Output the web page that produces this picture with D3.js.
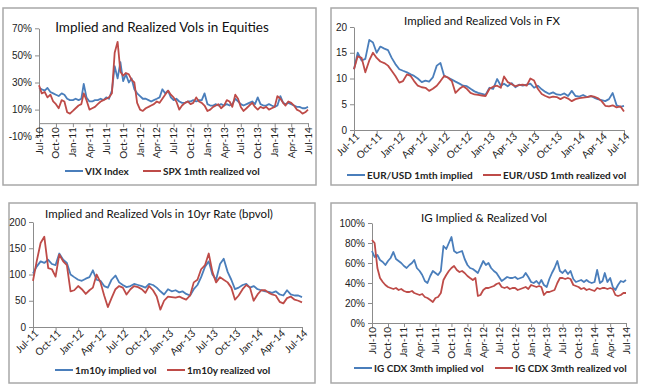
<!DOCTYPE html>
<html>
<head>
<meta charset="utf-8">
<script src="https://cdn.jsdelivr.net/npm/d3@7"></script>
<style>
  body { margin: 0; background: #fff; }
  svg { display: block; font-family: Lato, "Noto Sans", sans-serif; }
</style>
</head>
<body>
<svg id="chart" width="645" height="386"></svg>
<script>
// All series are semi-monthly observations (1st and 16th of each month).

// Equities, Jul-10 .. Jul-14 (%)
const eqStart = "2010-07";
const vixIndex = [
  26,25, 24,26, 23,22, 21,20, 22,21, 18,17,
  17,18, 17,18, 29,19, 16,16, 17,17, 18,17, 19,18, 24,42, 33,45, 31,36, 30,33, 25,22,
  20,18, 18,17, 16,17, 18,19, 25,22, 24,19, 17,18, 16,15, 15,16, 16,17, 16,17, 17,22,
  14,13, 13,14, 13,14, 13,14, 13,14, 18,16, 14,13, 14,15, 16,14, 19,14, 13,13, 14,13,
  12,13, 20,15, 14,15, 14,13, 12,12, 11,11, 12
];
const spxRealized = [
  28,22, 23,19, 21,16, 14,11, 17,16, 8,7,
  9,11, 13,14, 22,17, 10,11, 12,14, 16,17, 18,19, 22,52, 60,38, 35,37, 36,32, 30,15,
  10,9, 11,12, 13,14, 16,15, 18,21, 24,21, 19,16, 10,13, 15,16, 14,15, 19,16, 15,13,
  9,10, 12,13, 14,11, 13,17, 16,12, 21,18, 12,9, 11,13, 15,12, 10,12, 11,12, 10,11,
  12,20, 18,15, 13,16, 15,13, 10,9, 7,8, 10
];

// FX, Jul-11 .. Jul-14 (vol points)
const fxStart = "2011-07";
const eurusdImplied = [
  11.8,15.0, 13.5,13.8, 17.5,17.0, 15.0,16.2, 15.8,15.5, 14.0,12.8,
  11.8,11.5, 11.2,10.8, 10.5,10.0, 9.3,9.6, 9.4,10.2, 12.5,13.0, 10.5,10.2, 9.8,9.4, 9.0,8.6, 8.5,8.0, 7.5,7.2, 7.0,6.8,
  8.2,8.0, 9.9,8.6, 9.0,8.5, 9.1,8.3, 8.8,8.6, 8.8,9.0, 8.2,8.6, 7.9,7.4, 7.0,7.3, 6.9,6.8, 7.1,6.6, 7.6,6.6,
  6.5,6.8, 6.4,6.6, 6.3,6.0, 5.8,5.6, 6.0,7.2, 4.8,4.5, 4.7
];
const eurusdRealized = [
  11.8,14.3, 14.0,11.2, 13.5,15.0, 14.0,13.3, 13.0,12.5, 11.5,10.5,
  9.2,9.5, 10.8,10.5, 9.5,8.6, 8.3,8.2, 7.6,8.0, 8.6,9.5, 10.5,10.2, 9.5,7.2, 8.0,8.5, 8.0,7.2, 6.9,6.8, 6.7,6.6,
  8.0,8.4, 8.6,8.2, 10.4,9.3, 8.9,8.5, 8.7,8.8, 8.6,10.0, 9.6,8.0, 7.0,6.6, 6.3,6.5, 6.4,6.0, 6.4,6.1, 5.6,6.0,
  6.2,6.3, 6.4,6.6, 6.5,6.2, 5.6,4.7, 4.6,4.8, 4.4,4.6, 3.6
];

// 10yr rates, Jul-11 .. Jul-14 (bp vol)
const ratesStart = "2011-07";
const rateImplied = [
  102,115, 125,122, 128,120, 118,140, 128,122, 100,95,
  90,88, 92,95, 108,90, 88,78, 75,90, 98,85, 80,76, 78,82, 80,78, 75,82, 80,75, 68,62,
  72,68, 70,66, 68,63, 60,72, 80,95, 115,125, 100,90, 120,130, 105,90, 72,75, 80,82, 75,78,
  72,70, 68,67, 65,68, 62,60, 70,62, 60,60, 57
];
const rateRealized = [
  88,125, 160,172, 112,110, 96,138, 125,118, 68,70,
  78,72, 63,70, 75,100, 85,60, 38,55, 72,78, 75,62, 72,78, 76,72, 65,78, 70,58, 33,50,
  58,57, 56,58, 55,52, 60,85, 90,110, 118,140, 105,85, 95,90, 85,75, 52,60, 72,80, 75,50,
  62,70, 70,65, 62,60, 48,45, 55,58, 52,50, 47
];

// IG credit, Jul-10 .. Jul-14 (%)
const igStart = "2010-07";
const igImplied = [
  72,66, 68,63, 61,58, 62,65, 71,64, 62,60,
  57,55, 58,60, 63,55, 52,48, 42,40, 47,52, 50,48, 52,77, 74,80, 86,72, 70,71, 72,64,
  58,55, 54,52, 50,56, 62,58, 60,55, 52,50, 46,42, 44,46, 45,45, 46,44, 45,46, 50,46,
  41,40, 42,39, 43,38, 36,44, 50,55, 62,52, 50,53, 49,52, 44,41, 42,43, 41,43, 41,40,
  41,53, 40,42, 50,41, 45,36, 33,38, 42,41, 43
];
const igRealized = [
  83,80, 55,45, 41,38, 36,35, 34,35, 33,34,
  32,31, 31,32, 30,29, 28,29, 26,25, 23,21, 25,26, 30,43, 48,52, 55,57, 53,51, 52,50,
  47,45, 43,45, 27,28, 33,35, 35,36, 37,39, 40,36, 35,36, 34,35, 35,33, 34,35, 36,34,
  38,37, 36,37, 36,28, 31,31, 32,33, 40,45, 45,44, 45,44, 38,37, 36,34, 35,33, 34,33,
  32,35, 34,35, 35,34, 35,34, 28,27, 28,30, 30
];

const BLUE = "#4a7ebb", RED = "#be4b48", AXIS = "#8c8c8c", TEXT = "#222";

function semiMonthly(start, n) {
  const [yr, mo] = start.split("-").map(Number);
  return d3.range(n).map(i => new Date(yr, mo - 1 + Math.floor(i / 2), i % 2 ? 16 : 1));
}

const pct = d => d + "%";

const panels = [
  { box: [3, 8, 313, 177], x0: 39, x1: 308, yTop: 28.3, yBot: 136.7,
    title: "Implied and Realized Vols in Equities", tx: 162, ty: 27, tsize: 13.5,
    start: eqStart, yDomain: [-10, 70], yTicks: [-10, 10, 30, 50, 70], yFmt: pct, rot: -90,
    series: [["VIX Index", vixIndex, BLUE], ["SPX 1mth realized vol", spxRealized, RED]],
    legY: 171, legX: [65, 143] },
  { box: [331, 8, 307, 177], x0: 354, x1: 624, yTop: 27, yBot: 130,
    title: "Implied and Realized Vols in FX", tx: 482, ty: 21, tsize: 11.5,
    start: fxStart, yDomain: [0, 20], yTicks: [0, 5, 10, 15, 20], yFmt: d => d, rot: -45,
    series: [["EUR/USD 1mth implied", eurusdImplied, BLUE], ["EUR/USD 1mth realized vol", eurusdRealized, RED]],
    legY: 175, legX: [347, 483] },
  { box: [9, 203, 306, 180], x0: 33, x1: 302, yTop: 222, yBot: 327,
    title: "Implied and Realized Vols in 10yr Rate (bpvol)", tx: 159, ty: 214, tsize: 11.5,
    start: ratesStart, yDomain: [0, 200], yTicks: [0, 50, 100, 150, 200], yFmt: d => d, rot: -45,
    series: [["1m10y implied vol", rateImplied, BLUE], ["1m10y realized vol", rateRealized, RED]],
    legY: 370, legX: [55, 167] },
  { box: [331, 203, 306, 180], x0: 372, x1: 626, yTop: 223, yBot: 323,
    title: "IG Implied & Realized Vol", tx: 484, ty: 218, tsize: 11.5,
    start: igStart, yDomain: [0, 100], yTicks: [0, 20, 40, 60, 80, 100], yFmt: pct, rot: -90,
    series: [["IG CDX 3mth implied vol", igImplied, BLUE], ["IG CDX 3mth realized vol", igRealized, RED]],
    legY: 368, legX: [354, 495] }
];

const svg = d3.select("#chart");
svg.append("rect").attr("width", 645).attr("height", 386).attr("fill", "#fff");

panels.forEach(p => {
  const g = svg.append("g");
  const [bx, by, bw, bh] = p.box;
  g.append("rect").attr("x", bx).attr("y", by).attr("width", bw).attr("height", bh)
    .attr("fill", "#fff").attr("stroke", "#a8a8a8").attr("stroke-width", 1.5);

  const n = p.series[0][1].length;
  const dates = semiMonthly(p.start, n);
  const x = d3.scaleTime().domain([dates[0], dates[n - 1]]).range([p.x0, p.x1]);
  const y = d3.scaleLinear().domain(p.yDomain).range([p.yBot, p.yTop]);

  // y axis
  const yAxis = g.append("g").attr("transform", `translate(${p.x0},0)`)
    .call(d3.axisLeft(y).tickValues(p.yTicks).tickFormat(p.yFmt).tickSize(4).tickSizeOuter(0).tickPadding(3));
  yAxis.selectAll("path, line").attr("stroke", AXIS);
  yAxis.selectAll("text").attr("fill", TEXT).style("font-size", "10px");

  // x axis sits at value 0
  const axisY = y(0);
  const quarters = d3.timeMonth.every(3).range(dates[0], d3.timeDay.offset(dates[n - 1], 1));
  const xAxis = g.append("g").attr("transform", `translate(0,${axisY})`)
    .call(d3.axisBottom(x).tickValues(quarters).tickFormat("").tickSize(4).tickSizeOuter(0));
  xAxis.selectAll("path, line").attr("stroke", AXIS);

  const fmt = d3.timeFormat("%b-%y");
  g.append("g").selectAll("text").data(quarters).join("text")
    .attr("transform", d => p.rot === -90
      ? `translate(${x(d)},${axisY + 4}) rotate(-90)`
      : `translate(${x(d) + 4},${axisY + 5}) rotate(-45)`)
    .attr("text-anchor", "end")
    .attr("dy", p.rot === -90 ? "0.35em" : "0.3em")
    .attr("fill", TEXT)
    .style("font-size", "10px")
    .text(fmt);

  // lines
  const line = d3.line().x((d, i) => x(dates[i])).y(d => y(d));
  p.series.forEach(([name, vals, color]) => {
    g.append("path").datum(vals)
      .attr("d", line)
      .attr("fill", "none")
      .attr("stroke", color)
      .attr("stroke-width", 1.8)
      .attr("stroke-linejoin", "round");
  });

  // title
  g.append("text").attr("x", p.tx).attr("y", p.ty).attr("dy", "0.35em")
    .attr("text-anchor", "middle").attr("fill", "#111")
    .style("font-size", p.tsize + "px").text(p.title);

  // legend
  p.series.forEach(([name, vals, color], i) => {
    const lx = p.legX[i];
    g.append("line").attr("x1", lx).attr("x2", lx + 18).attr("y1", p.legY).attr("y2", p.legY)
      .attr("stroke", color).attr("stroke-width", 2);
    g.append("text").attr("x", lx + 20).attr("y", p.legY).attr("dy", "0.35em")
      .attr("fill", TEXT).style("font-size", "10px").style("font-weight", "bold")
      .text(name);
  });
});
</script>
</body>
</html>
